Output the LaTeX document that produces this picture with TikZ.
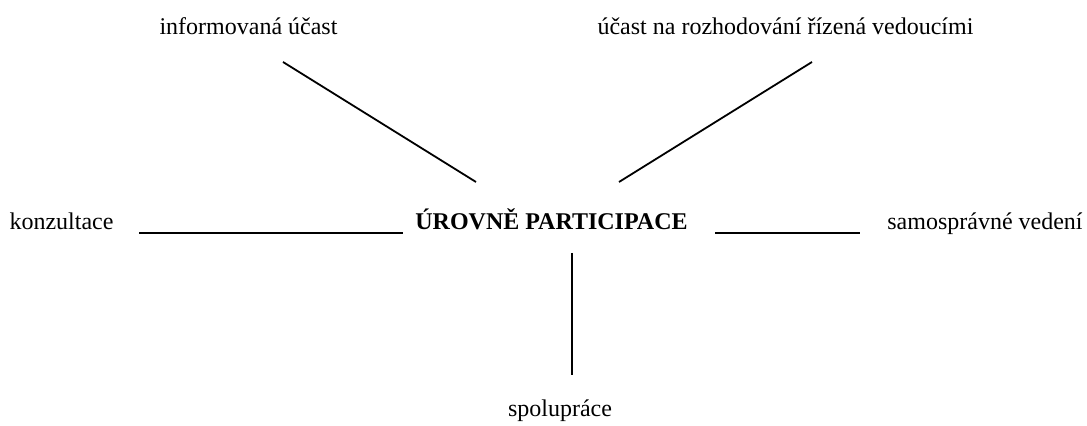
\documentclass[tikz,border=0pt]{standalone}
\usepackage{fontspec}
\setmainfont{Liberation Serif}
\usetikzlibrary{positioning}
\tikzstyle{lbl}=[inner sep=0pt, anchor=base, font=\fontsize{12pt}{14pt}\selectfont]
\tikzstyle{hlbl}=[lbl, font=\fontsize{12pt}{14pt}\selectfont\bfseries]
\tikzstyle{pline}=[-, line width=0.9pt]

\begin{document}
\begin{tikzpicture}[x=0.5pt, y=-0.5pt]
\useasboundingbox (0,0) rectangle (1087,426);

\node (UROVNE) [hlbl] at (551.5,230) {ÚROVNĚ PARTICIPACE};
\node (INFO) [lbl] at (248.5,35) {informovaná účast};
\node (ROZH) [lbl] at (785.5,35) {účast na rozhodování řízená vedoucími};
\node (KONZ) [lbl] at (61.5,230) {konzultace};
\node (SAMO) [lbl] at (985,230) {samosprávné vedení};
\node (SPOL) [lbl] at (560,417) {spolupráce};

\coordinate (a1) at (283,62);   \coordinate (a2) at (476,182);
\coordinate (b1) at (812,62);   \coordinate (b2) at (619,182);
\coordinate (c1) at (139,233);  \coordinate (c2) at (403,233);
\coordinate (d1) at (715,233);  \coordinate (d2) at (860,233);
\coordinate (e1) at (572,253);  \coordinate (e2) at (572,375);

 \draw[pline] (a1) -- (a2);
 \draw[pline] (b1) -- (b2);
 \draw[pline] (c1) -- (c2);
 \draw[pline] (d1) -- (d2);
 \draw[pline] (e1) -- (e2);

\end{tikzpicture}
\end{document}
